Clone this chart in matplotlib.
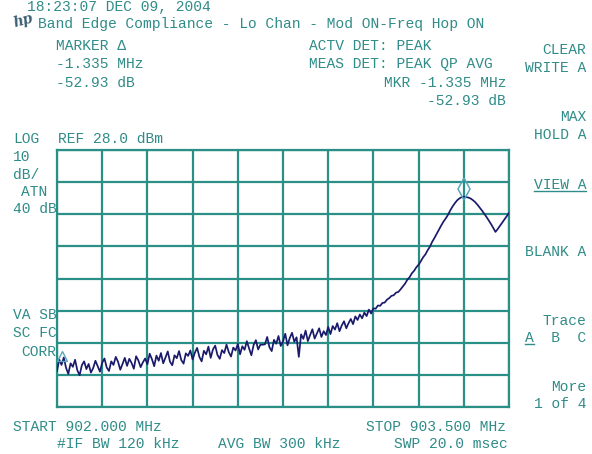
import numpy as np
import matplotlib
matplotlib.use("Agg")
import matplotlib.pyplot as plt
from matplotlib.lines import Line2D
from matplotlib.transforms import ScaledTranslation

# Instrument settings
start_mhz = 902.0
stop_mhz = 903.5
ref_dbm = 28.0
db_per_div = 10
atten_db = 40
n_hdiv = 10
n_vdiv = 8
delta_mhz = -1.335
delta_db = -52.93

# Swept trace A, dBm, evenly spaced from START to STOP
levels_dbm = [
    -40.8, -37.2, -38.9, -36.6, -39.8, -41.7, -38.4, -39.5, -37.3, -40.6,
    -42.1, -39.0, -37.8, -40.2, -38.6, -41.3, -39.9, -37.6, -39.3, -41.0,
    -38.2, -36.9, -39.7, -40.8, -37.8, -38.9, -36.4, -37.9, -40.4, -38.6,
    -36.7, -39.2, -37.0, -38.3, -40.1, -36.2, -37.5, -39.6, -38.1, -36.9,
    -38.7, -35.4, -37.1, -39.3, -36.0, -37.6, -35.2, -38.4, -36.6, -34.7,
    -37.9, -39.0, -35.9, -36.8, -34.6, -37.4, -38.5, -35.3, -36.1, -34.4,
    -37.2, -35.1, -33.6, -36.4, -37.8, -34.5, -35.6, -33.2, -36.7, -34.1,
    -32.9, -35.8, -37.0, -34.3, -35.2, -32.6, -34.9, -36.3, -33.5, -34.4,
    -32.4, -35.6, -33.1, -34.2, -31.5, -33.8, -35.9, -32.7, -31.2, -34.1,
    -32.6, -32.6, -32.5, -30.2, -33.4, -34.6, -31.1, -32.3, -29.9, -33.0,
    -31.6, -29.2, -32.8, -30.5, -28.9, -31.7, -30.3, -36.4, -29.4, -30.8,
    -28.2, -31.5, -29.6, -27.8, -30.7, -29.1, -27.5, -30.2, -28.4, -29.6,
    -27.1, -29.3, -26.8, -27.9, -25.9, -28.4, -26.6, -25.3, -27.5, -25.9,
    -24.6, -26.2, -23.8, -24.9, -23.2, -24.4, -22.6, -23.7, -21.7, -22.9,
    -21.3, -21.4, -20.4, -20.5, -19.6, -19.5, -18.6, -18.1, -17.4, -17.2,
    -16.4, -16.2, -15.4, -14.5, -13.6, -12.4, -11.6, -10.4, -9.6, -8.5,
    -7.7, -6.6, -5.4, -4.5, -3.2, -2.1, -0.6, 0.6, 1.9, 3.2,
    4.5, 5.7, 6.7, 7.8, 9.2, 10.4, 11.4, 12.3, 12.9, 13.3,
    13.4, 13.35, 13.2, 12.9, 12.4, 11.8, 11.0, 10.1, 9.2, 8.2,
    7.2, 6.1, 5.0, 3.8, 2.5, 3.4, 4.4, 5.4, 6.4, 7.4, 8.4,
]

# Softkey menu, right column
softkeys = ["CLEAR", "WRITE A", "MAX", "HOLD A", "VIEW A",
            "BLANK A", "Trace", "A  B  C", "More", "1 of 4"]
softkey_rows = [50, 68, 117, 135, 185, 252, 321, 338, 387, 404]

W, H = 592, 454
TEXT = "#2f8c88"
GRID = "#2a8f86"
TRACE = "#1a1a6c"
MARK = "#58a8bc"
FONT = "Liberation Mono"
FS = 10.5

fig = plt.figure(figsize=(W / 100, H / 100), dpi=100)
fig.patch.set_facecolor("white")

gl, gr, gt, gb = 57, 509, 150, 407
ax = fig.add_axes([gl / W, 1 - gb / H, (gr - gl) / W, (gb - gt) / H])
bottom_dbm = ref_dbm - db_per_div * n_vdiv
ax.set_xlim(start_mhz, stop_mhz)
ax.set_ylim(bottom_dbm, ref_dbm)
ax.set_xticks(np.linspace(start_mhz, stop_mhz, n_hdiv + 1))
ax.set_yticks(np.linspace(bottom_dbm, ref_dbm, n_vdiv + 1))
ax.tick_params(length=0, labelbottom=False, labelleft=False)
ax.grid(True, color=GRID, linewidth=1.6)
for sp in ax.spines.values():
    sp.set_color(GRID)
    sp.set_linewidth(1.6)

freqs = np.linspace(start_mhz, stop_mhz, len(levels_dbm))
ax.plot(freqs, levels_dbm, color=TRACE, lw=1.25, zorder=3)

# Reference marker on the peak, delta marker relative to it
peak_i = int(np.argmax(levels_dbm))
peak_f = freqs[peak_i]
peak_l = levels_dbm[peak_i]
up8 = ax.transData + ScaledTranslation(0, 8 / 100, fig.dpi_scale_trans)
up11 = ax.transData + ScaledTranslation(0, 11 / 100, fig.dpi_scale_trans)
ax.plot([peak_f], [peak_l], marker="d", ms=11, mfc="none", mec=MARK,
        mew=1.1, transform=up8, clip_on=False, zorder=4)
ax.plot([peak_f + delta_mhz], [peak_l + delta_db], marker="^", ms=7,
        mfc="none", mec=MARK, mew=1.0, transform=up11, clip_on=False,
        zorder=4)


def label(x, y, s, ha="left"):
    return fig.text(x / W, 1 - y / H, s, ha=ha, va="center", fontsize=FS,
                    family=FONT, color=TEXT)


fig.text(12 / W, 1 - 21 / H, "hp", fontstyle="italic", fontweight="bold",
         family="DejaVu Serif", fontsize=10, color="#3b5f72", ha="left",
         va="center", rotation=15)
label(27, 7, "18:23:07 DEC 09, 2004")
label(38, 24, "Band Edge Compliance - Lo Chan - Mod ON-Freq Hop ON")
label(56, 46, "MARKER \u0394")
label(56, 64, f"{delta_mhz:.3f} MHz")
label(56, 83, f"{delta_db:.2f} dB")
label(309, 46, "ACTV DET: PEAK")
label(309, 64, "MEAS DET: PEAK QP AVG")
label(506, 83, f"MKR {delta_mhz:.3f} MHz", ha="right")
label(506, 101, f"{delta_db:.2f} dB", ha="right")

label(13, 139, "LOG")
label(58, 139, f"REF {ref_dbm:.1f} dBm")
label(13, 157, f"{db_per_div}")
label(13, 175, "dB/")
label(21, 192, "ATN")
label(13, 209, f"{atten_db} dB")
label(13, 315, "VA SB")
label(13, 333, "SC FC")
label(21, 352, "CORR")

label(13, 427, f"START {start_mhz:.3f} MHz")
label(506, 427, f"STOP {stop_mhz:.3f} MHz", ha="right")
label(57, 444, "#IF BW 120 kHz")
label(218, 444, "AVG BW 300 kHz")
label(508, 444, "SWP 20.0 msec", ha="right")

keys = {}
for s, row in zip(softkeys, softkey_rows):
    keys[s] = label(586, row, s, ha="right")

# Underline the active softkey and the selected trace letter
fig.canvas.draw()
rend = fig.canvas.get_renderer()
bb = keys["VIEW A"].get_window_extent(rend)
fig.add_artist(Line2D([bb.x0 / W, bb.x1 / W], [1 - 191 / H] * 2,
                      color=TEXT, lw=1.0))
bb = keys["A  B  C"].get_window_extent(rend)
char_w = (bb.x1 - bb.x0) / len("A  B  C")
fig.add_artist(Line2D([bb.x0 / W, (bb.x0 + char_w) / W], [1 - 344 / H] * 2,
                      color=TEXT, lw=1.0))

fig.savefig("out.png", dpi=100, facecolor="white")
